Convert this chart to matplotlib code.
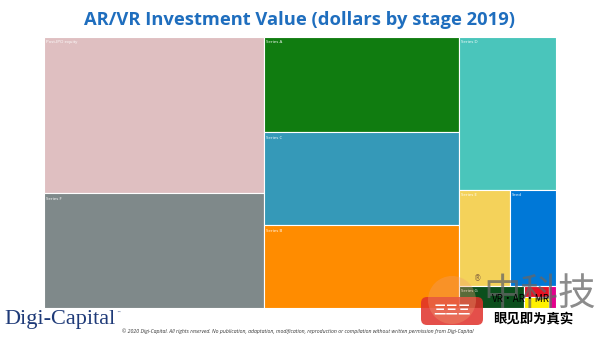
import matplotlib
matplotlib.use("Agg")
import matplotlib.pyplot as plt
from matplotlib.patches import Rectangle, FancyBboxPatch

# AR/VR investment by stage, 2019 ($M)
stages = ["Post-IPO equity", "Series F", "Series A", "Series C", "Series B",
          "Series D", "Series E", "Seed", "Series G", "Pre-Seed", "Angel", "Other"]
values = [1019, 746, 548, 534, 474, 439, 147, 131, 42, 8, 8, 4.6]
colors = ["#DFBFC1", "#7F898A", "#107C10", "#3599B8", "#FF8C00",
          "#4AC5BB", "#F4D25A", "#0078D7", "#0B4F1C", "#E81123", "#FFF100", "#E3008C"]

# nesting of the treemap: columns -> rows -> cells, directions alternate
groups = [["Post-IPO equity", "Series F"],
          ["Series A", "Series C", "Series B"],
          ["Series D", ["Series E", "Seed"], ["Series G", ["Pre-Seed", "Angel"], "Other"]]]

val = dict(zip(stages, values))
col = dict(zip(stages, colors))


def total(node):
    if isinstance(node, str):
        return val[node]
    return sum(total(n) for n in node)


def layout(node, x, y, w, h, horiz, out):
    if isinstance(node, str):
        out.append((node, x, y, w, h))
        return
    t = total(node)
    pos = x if horiz else y
    for n in node:
        frac = total(n) / t
        if horiz:
            layout(n, pos, y, w * frac, h, not horiz, out)
            pos += w * frac
        else:
            layout(n, x, pos, w, h * frac, not horiz, out)
            pos += h * frac


fig = plt.figure(figsize=(6, 3.37), dpi=100)
ax = fig.add_axes([44 / 600, 29 / 337, 512 / 600, 271 / 337])
ax.set_xlim(0, 1)
ax.set_ylim(1, 0)
ax.axis("off")

cells = []
layout(groups, 0, 0, 1, 1, True, cells)
for name, x, y, w, h in cells:
    ax.add_patch(Rectangle((x, y), w, h, facecolor=col[name], edgecolor="white", linewidth=0.8))
    if w > 0.05 and h > 0.05:
        ax.text(x + 0.004, y + 0.012, name, color="white", fontsize=3.2,
                ha="left", va="top", family="Open Sans")

fig.text(0.5, 0.94, "AR/VR Investment Value (dollars by stage 2019)", ha="center", va="center",
         fontsize=13.2, fontweight="bold", color="#1F6EBE", family="Open Sans")

# footer
fig.text(4 / 600, 0.053, "Digi-Capital", fontsize=16, color="#1E3A78", family="Liberation Serif",
         ha="left", va="center")
fig.text(116 / 600, 0.072, "™", fontsize=3, color="#1E3A78", ha="left", va="center")
fig.text(122 / 600, 0.018, "© 2020 Digi-Capital. All rights reserved. No publication, adaptation, "
         "modification, reproduction or compilation without written permission from Digi-Capital",
         fontsize=3.7, style="italic", color="#333333", ha="left", va="center", family="Open Sans")

# site watermark in the lower right
wm = fig.add_axes([0, 0, 1, 1], facecolor="none")
wm.set_xlim(0, 600)
wm.set_ylim(337, 0)
wm.axis("off")
wm.add_patch(FancyBboxPatch((421, 297), 62, 28, boxstyle="round,pad=0,rounding_size=6",
                            facecolor="#E0302A", edgecolor="none", alpha=0.85))
wm.add_patch(plt.Circle((452, 300), 24, facecolor="#F0A070", edgecolor="none", alpha=0.35))
wm.text(452, 311, "三三三", color="white", fontsize=9, ha="center", va="center",
        family=["Noto Sans CJK SC", "DejaVu Sans"], fontweight="bold")
wm.text(478, 279, "®", color="#8A6A40", fontsize=5.5, ha="center", va="center")
wm.text(540, 294, "中科技", color="#666666", fontsize=27, ha="center", va="center", alpha=0.75,
        family=["Noto Sans CJK SC", "DejaVu Sans"])
wm.text(521, 299, "VR•AR•MR", color="black", fontsize=7, ha="center", va="center",
        family=["Noto Sans CJK SC", "DejaVu Sans"])
wm.text(533, 319, "眼见即为真实", color="black", fontsize=9.6, ha="center", va="center",
        fontweight="bold", family=["Noto Sans CJK SC", "DejaVu Sans"])

fig.savefig("out.png", dpi=100, facecolor="white")
